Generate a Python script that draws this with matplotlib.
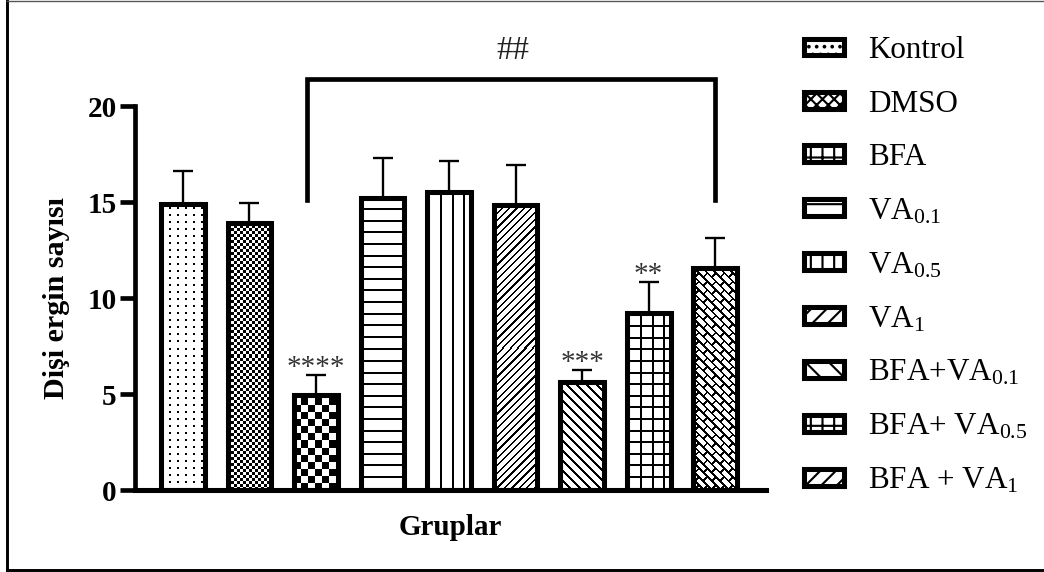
import numpy as np
import matplotlib
matplotlib.use("Agg")
from matplotlib import pyplot as plt
from matplotlib.patches import Patch
from matplotlib.lines import Line2D

plt.rcParams['font.family'] = ['Liberation Serif', 'DejaVu Serif']
plt.rcParams['mathtext.fontset'] = 'custom'
plt.rcParams['mathtext.rm'] = 'Liberation Serif'
plt.rcParams['mathtext.it'] = 'Liberation Serif:italic'
plt.rcParams['mathtext.bf'] = 'Liberation Serif:bold'
plt.rcParams['hatch.linewidth'] = 1.1

# data
groups = ['Kontrol', 'DMSO', 'BFA', 'VA$_{0.1}$', 'VA$_{0.5}$', 'VA$_{1}$',
          'BFA+VA$_{0.1}$', 'BFA+ VA$_{0.5}$', 'BFA + VA$_{1}$']
means = [14.9, 13.9, 4.95, 15.2, 15.5, 14.85, 5.6, 9.2, 11.55]
errors = [1.7, 1.05, 1.05, 2.1, 1.6, 2.05, 0.65, 1.6, 1.55]
stars = ['', '', '****', '', '', '', '***', '**', '']
textures = ['dots', 'fine', 'checker', 'hlines', 'vlines', 'diag', 'back', 'grid', 'brick']
legend_hatches = ['...', 'xxxx', '++', '--', '||', '///', '\\\\', '++', '///']
bracket_from, bracket_to = 2, 8
bracket_y, bracket_leg = 21.4, 15.1
yticks = [0, 5, 10, 15, 20]

DPI = 140
W, H = 1044, 572
fig = plt.figure(figsize=(W / DPI + 0.003, H / DPI + 0.003), dpi=DPI)
ax = fig.add_axes([135 / W, (H - 490) / H, (766 - 135) / W, (490 - 106) / H])

x = np.arange(len(groups))
bw = 0.66
ax.set_xlim(-0.72, 8.77)
ax.set_ylim(0, 20)


def texture(kind, nx, ny):
    # pixel pattern, 1 = white, 0 = black
    ix, iy = np.meshgrid(np.arange(nx), np.arange(ny))
    iy = iy[::-1]  # start pattern at the bar bottom
    if kind == 'dots':
        ink = (ix % 8 < 2) & (iy % 7 < 2)
    elif kind == 'fine':
        ink = (ix // 3 + iy // 3) % 2 == 1
    elif kind == 'checker':
        ink = (ix // 7 + iy // 7) % 2 == 1
    elif kind == 'hlines':
        ink = iy % 11.6 < 2
    elif kind == 'vlines':
        ink = (ix - 1) % 11.6 < 2
    elif kind == 'diag':
        ink = (ix - iy) % 7.4 < 2.2
    elif kind == 'back':
        ink = (ix + iy) % 10 < 2.6
    elif kind == 'grid':
        ink = ((ix - 1) % 11.6 < 2) | (iy % 11.6 < 2)
    else:
        # rotated brick pattern
        u = (ix - iy) / np.sqrt(2)
        v = (ix + iy) / np.sqrt(2)
        row = np.floor(v / 6.0)
        ink = ((v % 6.0) < 1.8) | (((u + (row % 2) * 6.0) % 12.0) < 1.8)
    return np.where(ink, 0.0, 1.0)


for i in range(len(groups)):
    ax.bar(x[i], means[i], width=bw, color='white', edgecolor='none', zorder=2)
    (px0, py0) = ax.transData.transform((x[i] - bw / 2, 0))
    (px1, py1) = ax.transData.transform((x[i] + bw / 2, means[i]))
    img = texture(textures[i], int(round(px1 - px0)), int(round(py1 - py0)))
    ax.imshow(img, cmap='gray', vmin=0, vmax=1, interpolation='nearest',
              extent=(x[i] - bw / 2, x[i] + bw / 2, 0, means[i]),
              aspect='auto', zorder=3)
    ax.bar(x[i], means[i], width=bw, color='none', edgecolor='black',
           linewidth=2.6, zorder=4)

ax.errorbar(x, means, yerr=[np.zeros(len(means)), errors], fmt='none',
            ecolor='black', elinewidth=1.2, capsize=5.2, capthick=1.2, zorder=1)

for i, s in enumerate(stars):
    if s:
        ax.text(x[i], means[i] + errors[i] + 0.02, s, ha='center', va='baseline',
                fontsize=15, color='#333333')

# bracket
bx0 = x[bracket_from] - 0.13
bx1 = x[bracket_to]
ax.plot([bx0, bx0, bx1, bx1], [bracket_leg, bracket_y, bracket_y, bracket_leg],
        color='black', lw=2.4, clip_on=False, solid_joinstyle='miter')
ax.text((bx0 + bx1) / 2 + 0.03, bracket_y + 0.7, '##', ha='center', va='bottom',
        fontsize=17, color='#222222')

ax.spines['top'].set_visible(False)
ax.spines['right'].set_visible(False)
ax.spines['left'].set_linewidth(2.4)
ax.spines['bottom'].set_linewidth(2.6)
ax.spines['bottom'].set_zorder(6)
ax.set_xticks([])
ax.set_yticks(yticks)
ax.tick_params(axis='y', length=7.5, width=2.4, pad=2, labelsize=15)
for lab in ax.get_yticklabels():
    lab.set_fontweight('bold')
ax.set_ylabel('Dişi ergin sayısı', fontsize=15.5, fontweight='bold', labelpad=9)
ax.set_xlabel('Gruplar', fontsize=15, fontweight='bold', labelpad=12)

handles = [Patch(facecolor='white', edgecolor='black', hatch=h, linewidth=2.6)
           for h in legend_hatches]
fig.legend(handles, groups, loc='upper left', bbox_to_anchor=(791 / W, 1 - 24 / H),
           frameon=False, fontsize=16, handlelength=1.3, handleheight=0.45,
           handletextpad=0.78, labelspacing=0.785, borderaxespad=0)

# figure frame
fig.add_artist(Line2D([7 / W, 7 / W], [2 / H, 1 - 1 / H], transform=fig.transFigure,
                      color='black', lw=1.5))
fig.add_artist(Line2D([7 / W, 1], [2 / H, 2 / H], transform=fig.transFigure,
                      color='black', lw=1.5))
fig.add_artist(Line2D([7 / W, 1], [1 - 1 / H, 1 - 1 / H], transform=fig.transFigure,
                      color='#555555', lw=0.7))

fig.savefig('out.png', dpi=DPI)
